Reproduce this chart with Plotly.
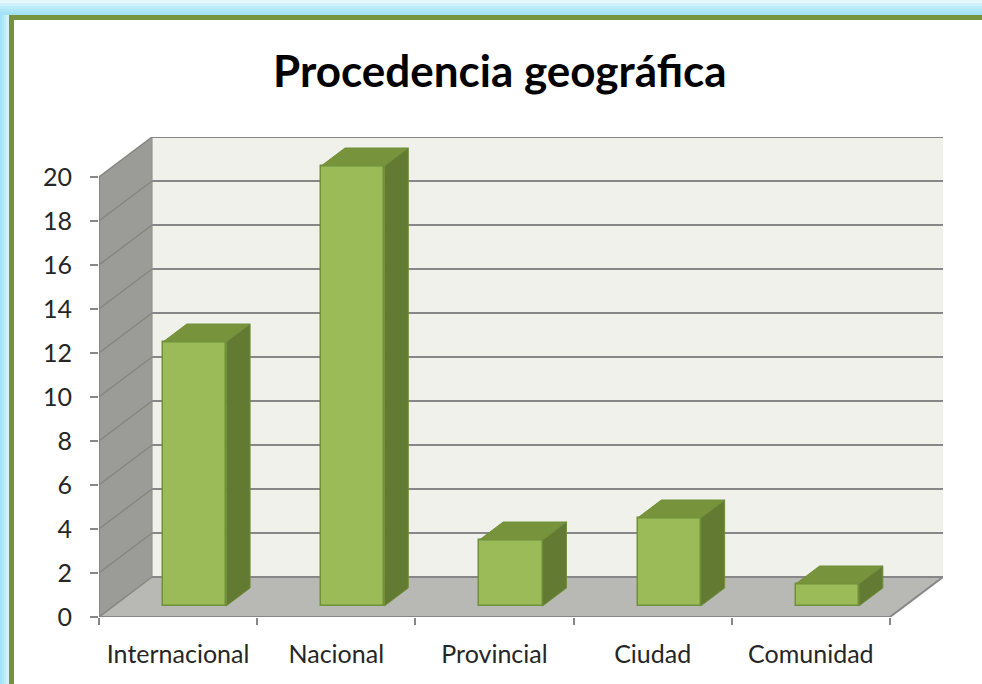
import plotly.graph_objects as go

# ---- data ----
categories = ["Internacional", "Nacional", "Provincial", "Ciudad", "Comunidad"]
values = [12, 20, 3, 4, 1]
y_ticks = [0, 2, 4, 6, 8, 10, 12, 14, 16, 18, 20]
title_text = "Procedencia geográfica"

# ---- layout constants (pseudo-3D projection) ----
W, H = 982, 684
PX_L, PX_R, PX_B, PX_T = 99, 943, 617, 137
CAT_PX = 158.0          # pixels per category
VAL_PX = 22.0           # pixels per unit value
DX = 53.0 / CAT_PX      # depth offset in x data units
DY = 40.0 / VAL_PX      # depth offset in y data units
Z0, Z1 = 0.275, 0.725   # bar front / back depth
BW = 0.40               # bar width (category units)
BOFF = 0.012            # slight bar centre offset
YMAX = max(y_ticks)
N = len(categories)

FRONT = "#9bbb59"
TOP = "#77933c"
SIDE = "#627a32"
EDGE = "#71903a"
GRID = "#878787"

fig = go.Figure()

# front faces of bars
fig.add_trace(go.Bar(
    x=[i + 0.5 + BOFF + Z0 * DX for i in range(N)],
    y=values,
    base=Z0 * DY,
    width=BW,
    marker=dict(color=FRONT, line=dict(color=EDGE, width=1.5)),
    showlegend=False, hoverinfo="skip",
))

# top and side faces
tx, ty, sx, sy = [], [], [], []
ddx, ddy = (Z1 - Z0) * DX, (Z1 - Z0) * DY
for i, v in enumerate(values):
    xl = i + 0.5 + BOFF - BW / 2 + Z0 * DX
    xr = i + 0.5 + BOFF + BW / 2 + Z0 * DX
    b = Z0 * DY
    tx += [xl, xr, xr + ddx, xl + ddx, xl, None]
    ty += [v + b, v + b, v + b + ddy, v + b + ddy, v + b, None]
    sx += [xr, xr, xr + ddx, xr + ddx, xr, None]
    sy += [b, v + b, v + b + ddy, b + ddy, b, None]
fig.add_trace(go.Scatter(x=tx, y=ty, fill="toself", fillcolor=TOP, mode="lines",
                         line=dict(color=EDGE, width=1), showlegend=False, hoverinfo="skip"))
fig.add_trace(go.Scatter(x=sx, y=sy, fill="toself", fillcolor=SIDE, mode="lines",
                         line=dict(color=EDGE, width=1), showlegend=False, hoverinfo="skip"))

shapes = []
# figure background / frame (paper coords = whole figure since margins are 0)
def prect(x0, y0, x1, y1, color):
    shapes.append(dict(type="rect", xref="paper", yref="paper", layer="below",
                       x0=x0 / W, x1=x1 / W, y0=1 - y1 / H, y1=1 - y0 / H,
                       fillcolor=color, line=dict(width=0)))

blues = ["#e6f7fc", "#d0f1fa", "#bdecf9", "#aee7f7", "#a3e3f5"]
for k, c in enumerate(blues):
    prect(0, k * 3, W, k * 3 + 3, c)
for k, c in enumerate(reversed(blues[1:])):
    prect(k * 2, 15, k * 2 + 2, H, c)
prect(8, 15, 9, H, "#d8f2f8")
prect(9, 15, W, 20, "#76923c")
prect(9, 15, 14, H, "#76923c")
prect(14, 20, W, H, "#ffffff")

# walls and floor (data coords)
def path(pts, color):
    d = "M " + " L ".join(f"{x},{y}" for x, y in pts) + " Z"
    shapes.append(dict(type="path", xref="x", yref="y", layer="below", path=d,
                       fillcolor=color, line=dict(width=0)))

path([(DX, DY), (N + DX, DY), (N + DX, YMAX + DY), (DX, YMAX + DY)], "#eff1ea")
path([(0, 0), (0, YMAX), (DX, YMAX + DY), (DX, DY)], "#9b9c97")
path([(0, 0), (N, 0), (N + DX, DY), (DX, DY)], "#b8b9b4")

def line(x0, y0, x1, y1, color=GRID, width=2):
    shapes.append(dict(type="line", xref="x", yref="y", layer="below",
                       x0=x0, y0=y0, x1=x1, y1=y1, line=dict(color=color, width=width)))

for v in y_ticks:
    line(DX, v + DY, N + DX, v + DY)
    line(0, v, DX, v + DY, color="#858682", width=1.5)
line(DX, DY, DX, YMAX + DY, color="#8f908b", width=1)
line(0, 0, 0, YMAX)
line(0, 0, N, 0)
line(N, 0, N + DX, DY)

fig.update_layout(
    width=W, height=H,
    margin=dict(l=0, r=0, t=0, b=0),
    paper_bgcolor="#ffffff", plot_bgcolor="rgba(0,0,0,0)",
    shapes=shapes,
    showlegend=False,
    bargap=0,
    font=dict(family="Lato, 'Open Sans', sans-serif", color="#262626", size=25),
    annotations=[dict(text="<b>" + title_text + "</b>", xref="paper", yref="paper",
                      x=500 / W, y=1 - 70 / H, xanchor="center", yanchor="middle",
                      showarrow=False, font=dict(family="Lato", size=44, color="#000000"))],
    xaxis=dict(domain=[PX_L / W, PX_R / W], range=[0, N + DX], automargin=False,
               showgrid=False, zeroline=False, showline=False, fixedrange=True,
               tickmode="array", tickvals=[i + 0.5 for i in range(N)], ticktext=categories,
               ticks="", ticklabelstandoff=20,
               minor=dict(tickmode="array", tickvals=list(range(N + 1)), ticks="outside",
                          ticklen=7, tickwidth=2, tickcolor=GRID, showgrid=False)),
    yaxis=dict(domain=[1 - PX_B / H, 1 - PX_T / H], range=[0, YMAX + DY], automargin=False,
               showgrid=False, zeroline=False, showline=False, fixedrange=True,
               tickmode="array", tickvals=y_ticks, ticks="outside", ticklen=8,
               tickwidth=2, tickcolor=GRID, ticklabelstandoff=13),
)

fig.write_html("out.html", config={"displayModeBar": False},
               post_script="document.body.style.margin='0';document.body.style.overflow='hidden';")
